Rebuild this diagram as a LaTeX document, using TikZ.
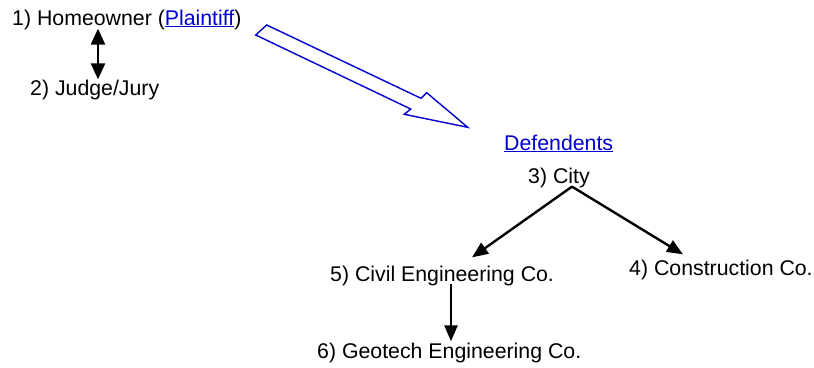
\documentclass[tikz,border=0pt]{standalone}
\usepackage{fontspec}
\setmainfont{Liberation Sans}
\usetikzlibrary{arrows.meta}
\definecolor{linkblue}{RGB}{0,0,210}
\newcommand{\linktext}[1]{\textcolor{linkblue}{\underline{#1}}}
\begin{document}
\begin{tikzpicture}[x=1pt,y=-1pt,
  label/.style={inner sep=0pt,anchor=base west,font=\fontsize{21.3}{25}\selectfont},
  relation/.style={line width=2.4pt,-{Triangle[length=16pt,width=13pt]}},
  mutual/.style={line width=2.5pt,{Triangle[length=16pt,width=14pt]}-{Triangle[length=16pt,width=14pt]}},
  bigarrow/.style={draw=linkblue,line width=1.4pt,line join=miter,fill=white}]
\useasboundingbox (0,0) rectangle (814,367);

% parties
\node[label] (homeowner) at (12,25) {1) Homeowner (\linktext{Plaintiff})};
\node[label] (judge) at (30,95) {2) Judge/Jury};
\node[label] (defend) at (504,150) {\linktext{Defendents}};
\node[label] (city) at (528,183) {3) City};
\node[label] (civil) at (330,281) {5) Civil Engineering Co.};
\node[label] (constr) at (629,275) {4) Construction Co.};
\node[label] (geotech) at (317,358) {6) Geotech Engineering Co.};

% plaintiff against defendants: hollow block arrow
\draw[bigarrow] (255.7,35) -- (266.7,25) -- (421,98.3) -- (426.7,92.7)
  -- (467.7,127.3) -- (404.3,114.3) -- (410.7,109) -- cycle;

% homeowner <-> judge/jury
\draw[mutual] ([xshift=86pt,yshift=1pt]homeowner.south west)
  -- ([xshift=68pt]judge.north west);

% city -> contractors
\draw[relation] ([xshift=44pt,yshift=1pt]city.south west) -- ([shift={(142pt,8pt)}]civil.north west);
\draw[relation] ([xshift=44pt,yshift=1pt]city.south west) -- ([shift={(54pt,5pt)}]constr.north west);

% civil engineering -> geotech
\draw[relation] ([xshift=121pt,yshift=2pt]civil.south west) -- ([xshift=134pt,yshift=1pt]geotech.north west);
\end{tikzpicture}
\end{document}
